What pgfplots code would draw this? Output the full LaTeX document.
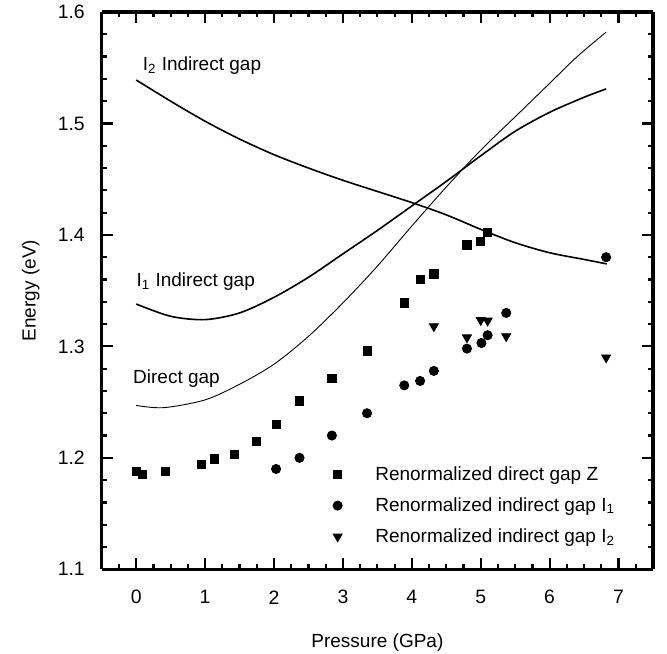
\documentclass[border=0pt]{standalone}
\usepackage{fontspec}
\setmainfont{Liberation Sans}
\usepackage{pgfplots}
\pgfplotsset{compat=1.18}
\pgfplotsset{
  every tick/.append style={black, line width=1.1pt},
  every axis/.append style={
    major tick length=5.5pt, minor tick length=2.7pt},
}
\begin{document}
\fontsize{9.5}{11.5}\selectfont
\begin{tikzpicture}
\begin{axis}[
  scale only axis, width=275.5pt, height=278.5pt,
  xmin=-0.5, xmax=7.5, ymin=1.1, ymax=1.6,
  xtick={0,1,2,3,4,5,6,7}, minor xtick={-0.25,0.25,0.5,0.75,1.25,1.5,1.75,2.25,2.5,2.75,3.25,3.5,3.75,4.25,4.5,4.75,5.25,5.5,5.75,6.25,6.5,6.75,7.25},
  ytick={1.1,1.2,1.3,1.4,1.5,1.6}, minor ytick={1.12,1.14,1.16,1.18,1.22,1.24,1.26,1.28,1.32,1.34,1.36,1.38,1.42,1.44,1.46,1.48,1.52,1.54,1.56,1.58},
  separate axis lines,
  xtick pos=both, ytick pos=both,
  tick align=inside, xtick align=inside, ytick align=inside,
  every outer x axis line/.append style={line width=1.6pt},
  every outer y axis line/.append style={line width=1.6pt},
  /pgf/number format/assume math mode=true,
  tick label style={font=\fontsize{9.7}{11.5}\selectfont},
  xticklabel style={anchor=center, inner sep=0pt, yshift=-14pt},
  yticklabel style={anchor=east, inner sep=0pt, xshift=-8.3pt,
    /pgf/number format/.cd, fixed, fixed zerofill, precision=1},
  label style={font=\fontsize{10.8}{12.5}\selectfont},
  xlabel={Pressure (GPa)}, ylabel={Energy (eV)},
  every axis x label/.style={at={(axis description cs:0.5,-0.131)}, anchor=center},
  every axis y label/.style={at={(axis description cs:-0.129,0.5)}, rotate=90, anchor=center},
  legend style={draw=none, fill=none, at={(0.408,0.20)}, anchor=north west,
    row sep=3.2pt, font=\fontsize{9.5}{11.5}\selectfont,
    /tikz/every odd column/.append style={column sep=14.5pt}},
  legend cell align=left,
]
% axis ticks (inside, on all four sides)
\pgfplotsinvokeforeach{0,1,2,3,4,5,6,7}{
  \draw[line width=1.1pt] (axis cs:#1,1.1) -- ++(0pt,5.5pt);
  \draw[line width=1.1pt] (axis cs:#1,1.6) -- ++(0pt,-5.5pt);}
\pgfplotsinvokeforeach{-0.25,0.25,0.5,0.75,1.25,1.5,1.75,2.25,2.5,2.75,3.25,3.5,3.75,4.25,4.5,4.75,5.25,5.5,5.75,6.25,6.5,6.75,7.25}{
  \draw[line width=1.1pt] (axis cs:#1,1.1) -- ++(0pt,2.7pt);
  \draw[line width=1.1pt] (axis cs:#1,1.6) -- ++(0pt,-2.7pt);}
\pgfplotsinvokeforeach{1.1,1.2,1.3,1.4,1.5,1.6}{
  \draw[line width=1.1pt] (axis cs:-0.5,#1) -- ++(5.5pt,0pt);
  \draw[line width=1.1pt] (axis cs:7.5,#1) -- ++(-5.5pt,0pt);}
\pgfplotsinvokeforeach{1.12,1.14,1.16,1.18,1.22,1.24,1.26,1.28,1.32,1.34,1.36,1.38,1.42,1.44,1.46,1.48,1.52,1.54,1.56,1.58}{
  \draw[line width=1.1pt] (axis cs:-0.5,#1) -- ++(2.7pt,0pt);
  \draw[line width=1.1pt] (axis cs:7.5,#1) -- ++(-2.7pt,0pt);}

% Direct gap curve
\addplot[black, line width=0.45pt, smooth, forget plot] coordinates {
(0,1.247)(0.4,1.245)(1,1.252)(1.5,1.266)(2,1.284)(2.5,1.309)(3,1.339)
(3.5,1.372)(4,1.408)(4.5,1.443)(5,1.476)(5.5,1.506)(6,1.536)(6.4,1.560)(6.82,1.582)};
% I1 indirect gap curve
\addplot[black, line width=0.8pt, smooth, forget plot] coordinates {
(0,1.338)(0.5,1.327)(1,1.324)(1.5,1.330)(2,1.344)(2.5,1.362)(3,1.383)
(3.5,1.404)(4,1.426)(4.5,1.448)(5,1.471)(5.5,1.493)(6,1.510)(6.5,1.5235)(6.82,1.531)};
% I2 indirect gap curve
\addplot[black, line width=0.8pt, smooth, forget plot] coordinates {
(0,1.539)(0.5,1.520)(1,1.502)(1.5,1.486)(2,1.472)(2.5,1.460)(3,1.449)
(3.5,1.439)(4,1.429)(4.5,1.418)(5,1.405)(5.5,1.393)(6,1.384)(6.5,1.378)(6.83,1.374)};

\addplot[only marks, mark=square*, mark size=2.05pt, black] coordinates {
(0,1.188)(0.095,1.185)(0.42,1.188)(0.95,1.194)(1.14,1.199)(1.43,1.203)
(1.74,1.215)(2.03,1.230)(2.37,1.251)(2.84,1.271)(3.36,1.296)(3.89,1.339)
(4.12,1.360)(4.32,1.365)(4.80,1.391)(5.00,1.394)(5.10,1.402)};
\addlegendentry{Renormalized direct gap Z}
\addplot[only marks, mark=*, mark size=2.3pt, black] coordinates {
(2.03,1.190)(2.37,1.200)(2.84,1.220)(3.35,1.240)(3.89,1.265)(4.12,1.269)
(4.32,1.278)(4.80,1.298)(5.01,1.303)(5.10,1.310)(5.37,1.330)(6.82,1.380)};
\addlegendentry{Renormalized indirect gap I\textsubscript{1}}
\addplot[only marks, mark=triangle*, mark size=2.6pt, mark options={rotate=180}, black] coordinates {
(4.32,1.318)(4.80,1.308)(5.00,1.3235)(5.10,1.323)(5.37,1.309)(6.82,1.290)};
\addlegendentry{Renormalized indirect gap I\textsubscript{2}}

\node[anchor=west, inner sep=0pt] at (axis cs:0.09,1.552) {I\textsubscript{2} Indirect gap};
\node[anchor=west, inner sep=0pt] at (axis cs:0.0,1.358) {I\textsubscript{1} Indirect gap};
\node[anchor=west, inner sep=0pt] at (axis cs:-0.05,1.2715) {Direct gap};
\end{axis}
\pgfresetboundingbox
\path[use as bounding box] ([shift={(-50.85pt,-42pt)}]current axis.south west) rectangle ([shift={(7pt,6pt)}]current axis.north east);
\end{tikzpicture}
\end{document}
